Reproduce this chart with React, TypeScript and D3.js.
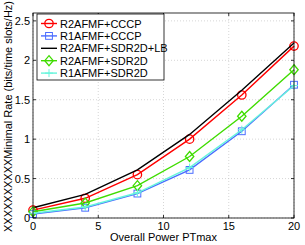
import React from 'react';
import * as d3 from 'd3';

const powers = [0, 4, 8, 12, 16, 20];
const seriesNames = ['R2AFMF+CCCP', 'R1AFMF+CCCP', 'R2AFMF+SDR2D+LB', 'R2AFMF+SDR2D', 'R1AFMF+SDR2D'];
const r2Cccp = [0.1, 0.25, 0.55, 1.0, 1.56, 2.18];
const r1Cccp = [0.05, 0.13, 0.31, 0.61, 1.1, 1.69];
const r2Lb = [0.13, 0.3, 0.61, 1.06, 1.62, 2.22];
const r2Sdr = [0.08, 0.19, 0.41, 0.78, 1.29, 1.88];
const r1Sdr = [0.06, 0.14, 0.32, 0.64, 1.12, 1.68];
const xTicks = [0, 5, 10, 15, 20];
const yTicks = [0, 0.5, 1, 1.5, 2, 2.5];

const colors = ['#ff0000', '#4a6cff', '#000000', '#3fdc00', '#66f5dc'];
const markers = ['circle', 'square', 'none', 'diamond', 'plus'];
const allSeries = [r2Cccp, r1Cccp, r2Lb, r2Sdr, r1Sdr];

const font = 'Liberation Sans, Arial, sans-serif';

function Marker({ type, x, y, color }: { type: string; x: number; y: number; color: string }) {
  // matlab style hollow markers
  if (type === 'circle') return <circle cx={x} cy={y} r={4.2} fill="none" stroke={color} strokeWidth={1.3} />;
  if (type === 'square')
    return <rect x={x - 3.4} y={y - 3.4} width={6.8} height={6.8} fill="none" stroke={color} strokeWidth={1} />;
  if (type === 'diamond')
    return (
      <path d={`M${x},${y - 5}L${x + 4.2},${y}L${x},${y + 5}L${x - 4.2},${y}Z`} fill="none" stroke={color} strokeWidth={1.3} />
    );
  if (type === 'plus')
    return <path d={`M${x - 4},${y}H${x + 4}M${x},${y - 4}V${y + 4}`} stroke={color} strokeWidth={1} />;
  return null;
}

export default function App() {
  const W = 305;
  const H = 245;
  const x = d3.scaleLinear().domain([0, 20]).range([33, 294]);
  const y = d3.scaleLinear().domain([0, 2.6]).range([218, 13]);
  const [x0, x1] = x.range();
  const [y0, y1] = y.range();

  const lineGen = d3
    .line<number>()
    .x((_, i) => x(powers[i]))
    .y((d) => y(d));

  const legX = 37;
  const legY = 14;
  const legRow = 12.4;

  return (
    <svg width={W} height={H} style={{ position: 'absolute', left: 0, top: 0, background: '#fff' }}>
      <rect x={0} y={0} width={W} height={H} fill="#fff" />
      {/* grid */}
      {xTicks.map((t) => (
        <line key={'gx' + t} x1={x(t)} x2={x(t)} y1={y0} y2={y1} stroke="#bbb" strokeWidth={0.6} strokeDasharray="1,2" />
      ))}
      {yTicks.map((t) => (
        <line key={'gy' + t} x1={x0} x2={x1} y1={y(t)} y2={y(t)} stroke="#bbb" strokeWidth={0.6} strokeDasharray="1,2" />
      ))}
      {/* series */}
      {allSeries.map((s, k) => (
        <g key={'s' + k}>
          <path d={lineGen(s) || ''} fill="none" stroke={colors[k]} strokeWidth={1.4} />
          {s.map((v, i) => (
            <Marker key={i} type={markers[k]} x={x(powers[i])} y={y(v)} color={colors[k]} />
          ))}
        </g>
      ))}
      {/* axes box */}
      <rect x={x0} y={y1} width={x1 - x0} height={y0 - y1} fill="none" stroke="#000" strokeWidth={0.8} />
      {xTicks.map((t) => (
        <g key={'xt' + t}>
          <line x1={x(t)} x2={x(t)} y1={y0} y2={y0 - 3} stroke="#000" strokeWidth={0.8} />
          <line x1={x(t)} x2={x(t)} y1={y1} y2={y1 + 3} stroke="#000" strokeWidth={0.8} />
          <text x={x(t)} y={y0 + 12} textAnchor="middle" fontSize={11} fontFamily={font} fill="#000">
            {t}
          </text>
        </g>
      ))}
      {yTicks.map((t) => (
        <g key={'yt' + t}>
          <line x1={x0} x2={x0 + 3} y1={y(t)} y2={y(t)} stroke="#000" strokeWidth={0.8} />
          <line x1={x1} x2={x1 - 3} y1={y(t)} y2={y(t)} stroke="#000" strokeWidth={0.8} />
          <text x={x0 - 3} y={y(t) + 4} textAnchor="end" fontSize={11} fontFamily={font} fill="#000">
            {t}
          </text>
        </g>
      ))}
      <text x={(x0 + x1) / 2} y={241} textAnchor="middle" fontSize={11} fontFamily={font} fill="#000">
        Overall Power PTmax
      </text>
      <text
        transform={`translate(12,${(y0 + y1) / 2 + 1}) rotate(-90)`}
        textAnchor="middle"
        fontSize={11}
        fontFamily={font}
        fill="#000"
      >
        XXXXXXXXXXMinimal Rate (bits/time slots/Hz)
      </text>
      {/* legend */}
      <rect x={legX} y={legY} width={127} height={66} fill="#fff" stroke="#000" strokeWidth={0.8} />
      {seriesNames.map((n, k) => {
        const ly = legY + 9.5 + k * legRow;
        return (
          <g key={'l' + k}>
            <line x1={legX + 4} x2={legX + 20} y1={ly} y2={ly} stroke={colors[k]} strokeWidth={1.4} />
            <Marker type={markers[k]} x={legX + 12} y={ly} color={colors[k]} />
            <text x={legX + 23} y={ly + 4} fontSize={11} fontFamily={font} fill="#000">
              {n}
            </text>
          </g>
        );
      })}
    </svg>
  );
}
